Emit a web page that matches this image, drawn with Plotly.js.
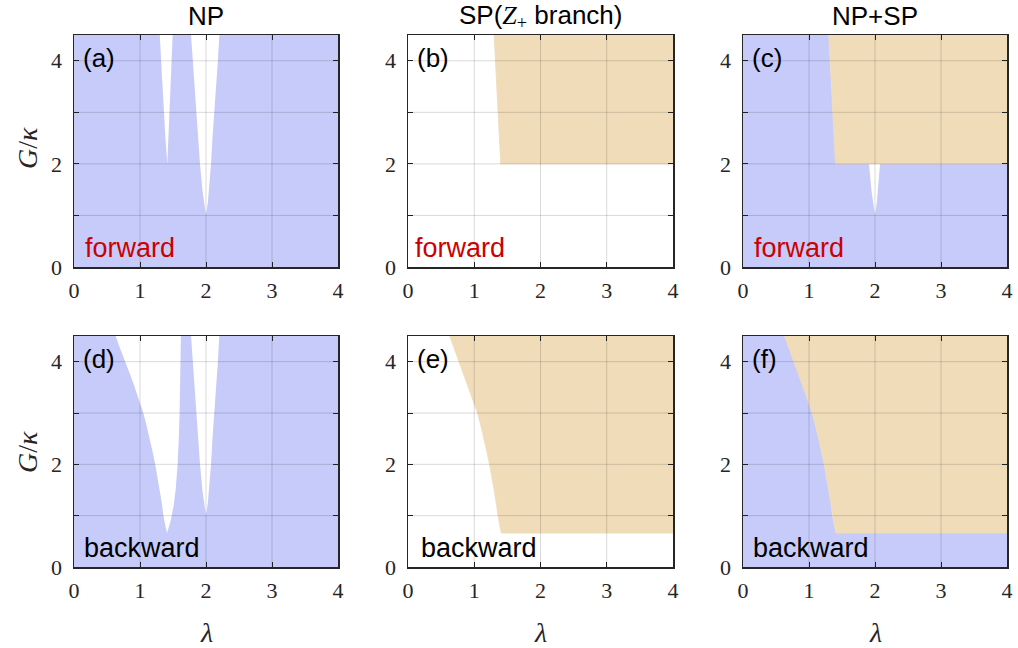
<!DOCTYPE html>
<html>
<head>
<meta charset="utf-8">
<script src="https://cdn.plot.ly/plotly-3.0.1.min.js"></script>
<style>html,body{margin:0;padding:0;background:#fff;}</style>
</head>
<body>
<div id="chart" style="width:1018px;height:648px;"></div>
<script>
// ---------------- data ----------------
const xTickVals = [0, 1, 2, 3, 4];
const xTickText = ['0', '1', '2', '3', '4'];
const yTickVals = [0, 2, 4];
const yTickText = ['0', '2', '4'];
const yMinorTickVals = [1, 3];
const xRange = [0, 4];
const yRange = [0, 4.5];

// NP forward: white wedge near lambda = sqrt(2)
const npW1Y     = [4.5, 4.0, 3.5, 3.0, 2.5, 2.0];
const npW1Left  = [1.30, 1.32, 1.34, 1.36, 1.385, 1.414];
const npW1Right = [1.495, 1.48, 1.468, 1.455, 1.437, 1.414];
// NP (both directions): white wedge near lambda = 2
const npW2Y     = [4.5, 4.0, 3.5, 3.0, 2.5, 2.0, 1.5, 1.25, 1.0];
const npW2Left  = [1.773, 1.80, 1.826, 1.853, 1.88, 1.909, 1.945, 1.97, 2.0];
const npW2Right = [2.202, 2.18, 2.15, 2.12, 2.098, 2.076, 2.05, 2.028, 2.0];
// backward: left boundary curve (shared by NP white region and SP region)
const bwCurveY = [4.5, 4.25, 4.0, 3.75, 3.5, 3.25, 3.0, 2.75, 2.5, 2.25, 2.0, 1.75, 1.5, 1.25, 1.0, 0.8, 0.66];
const bwCurveX = [0.63, 0.70, 0.77, 0.85, 0.92, 0.99, 1.05, 1.10, 1.15, 1.19, 1.23, 1.27, 1.30, 1.33, 1.355, 1.385, 1.41];
// NP backward: right side of the large white region
const npBwRightY = [4.5, 4.0, 3.0, 2.5, 2.0, 1.5, 1.2, 0.9, 0.66];
const npBwRightX = [1.62, 1.615, 1.60, 1.588, 1.57, 1.54, 1.51, 1.465, 1.41];
// SP forward (Z+ branch) boundary
const spFwY = [4.5, 4.0, 3.5, 3.0, 2.5, 2.0];
const spFwX = [1.30, 1.32, 1.34, 1.36, 1.38, 1.40];
const spFwThreshold = 2.0;
const spBwThreshold = 0.66;

const panelLabels = ['(a)', '(b)', '(c)', '(d)', '(e)', '(f)'];
const dirLabels = ['forward', 'forward', 'forward', 'backward', 'backward', 'backward'];
const dirLabelX = [0.13, 0.07, 0.13, 0.12, 0.17, 0.12];
const columnTitles = ['NP', 'SP(<span style="font-family:\'Liberation Serif\';"><i>Z</i><sub>+</sub></span> branch)', 'NP+SP'];

// ---------------- styles ----------------
const BLUE = '#c6cbfa';
const TAN = '#f0dcb9';
const AX = '#262626';
const SANS = 'Liberation Sans, Arial, sans-serif';
const SERIF = 'Liberation Serif, Times New Roman, serif';

const xDom = [[74/1018, 338/1018], [408/1018, 673/1018], [743/1018, 1007/1018]];
const yDomTop = [(648-267)/648, (648-35)/648];
const yDomBot = [(648-567)/648, (648-336)/648];

const rev = a => a.slice().reverse();

// polygons
function npForwardPoly() {
  const x = [0, 4, 4].concat(npW2Right, rev(npW2Left), npW1Right, rev(npW1Left), [0]);
  const y = [0, 0, 4.5].concat(npW2Y, rev(npW2Y), npW1Y, rev(npW1Y), [4.5]);
  return {x, y};
}
function npBackwardPoly() {
  const x = [0, 4, 4].concat(npW2Right, rev(npW2Left), npBwRightX, rev(bwCurveX), [0]);
  const y = [0, 0, 4.5].concat(npW2Y, rev(npW2Y), npBwRightY, rev(bwCurveY), [4.5]);
  return {x, y};
}
function spForwardPoly() {
  return {x: spFwX.concat([4, 4]), y: spFwY.concat([spFwThreshold, 4.5])};
}
function spBackwardPoly() {
  return {x: bwCurveX.concat([4, 4]), y: bwCurveY.concat([spBwThreshold, 4.5])};
}

function fillTrace(poly, color, idx, edge) {
  const s = idx === 1 ? '' : String(idx);
  return {
    type: 'scatter', mode: 'lines', x: poly.x, y: poly.y,
    fill: 'toself', fillcolor: color,
    line: {color: color, width: edge ? 0.8 : 0},
    xaxis: 'x' + s, yaxis: 'y' + s, hoverinfo: 'skip', showlegend: false
  };
}

const traces = [
  fillTrace(npForwardPoly(), BLUE, 1, false),
  fillTrace(spForwardPoly(), TAN, 2, true),
  fillTrace(npForwardPoly(), BLUE, 3, false),
  fillTrace(spForwardPoly(), TAN, 3, true),
  fillTrace(npBackwardPoly(), BLUE, 4, false),
  fillTrace(spBackwardPoly(), TAN, 5, true),
  fillTrace(npBackwardPoly(), BLUE, 6, false),
  fillTrace(spBackwardPoly(), TAN, 6, true)
];

function axisBase(isX) {
  const a = {
    range: isX ? xRange : yRange,
    tickmode: 'array',
    tickvals: isX ? xTickVals : yTickVals,
    ticktext: isX ? xTickText : yTickText,
    ticks: 'inside', ticklen: 5, tickwidth: 1, tickcolor: AX,
    showline: true, linecolor: AX, linewidth: 1.5, mirror: 'ticks',
    showgrid: false, zeroline: false, layer: 'above traces',
    tickfont: {family: SERIF, size: 22, color: AX},
    ticklabelstandoff: isX ? 3 : 6,
    fixedrange: true
  };
  if (!isX) {
    a.minor = {tickmode: 'array', tickvals: yMinorTickVals, ticks: 'inside', ticklen: 5,
               tickwidth: 1, tickcolor: AX, showgrid: false};
  }
  return a;
}

const layout = {
  width: 1018, height: 648,
  margin: {l: 0, r: 0, t: 0, b: 0},
  paper_bgcolor: '#fff', plot_bgcolor: '#fff',
  showlegend: false,
  shapes: [], annotations: []
};

for (let i = 1; i <= 6; i++) {
  const s = i === 1 ? '' : String(i);
  const col = (i - 1) % 3;
  const top = i <= 3;
  const xa = axisBase(true);
  xa.domain = xDom[col];
  xa.anchor = 'y' + s;
  const ya = axisBase(false);
  ya.domain = top ? yDomTop : yDomBot;
  ya.anchor = 'x' + s;
  layout['xaxis' + s] = xa;
  layout['yaxis' + s] = ya;

  // grid lines drawn above the fills (as in the reference)
  [1, 2, 3].forEach(v => layout.shapes.push({
    type: 'line', xref: 'x' + s, yref: 'y' + s, x0: v, x1: v, y0: yRange[0], y1: yRange[1],
    line: {color: 'rgba(0,0,0,0.15)', width: 1}, layer: 'above'
  }));
  [1, 2, 3, 4].forEach(v => layout.shapes.push({
    type: 'line', xref: 'x' + s, yref: 'y' + s, x0: xRange[0], x1: xRange[1], y0: v, y1: v,
    line: {color: 'rgba(0,0,0,0.15)', width: 1}, layer: 'above'
  }));

  layout.annotations.push({
    xref: 'x' + s, yref: 'y' + s, x: 0.1, y: 4.05, xanchor: 'left', yanchor: 'middle',
    text: panelLabels[i - 1], showarrow: false, font: {family: SANS, size: 26, color: '#000'}
  });
  layout.annotations.push({
    xref: 'x' + s, yref: 'y' + s, x: dirLabelX[i - 1], y: 0.37, xanchor: 'left', yanchor: 'middle',
    text: dirLabels[i - 1], showarrow: false,
    font: {family: SANS, size: 27, color: top ? '#cc0000' : '#000'}
  });
}

// column titles
columnTitles.forEach((t, c) => layout.annotations.push({
  xref: 'paper', yref: 'paper', x: (xDom[c][0] + xDom[c][1]) / 2, y: (648 - 16) / 648,
  xanchor: 'center', yanchor: 'middle', text: t, showarrow: false,
  font: {family: SANS, size: 26, color: '#000'}
}));
// y-axis titles
[(648 - 148) / 648, (648 - 452) / 648].forEach(yy => layout.annotations.push({
  xref: 'paper', yref: 'paper', x: 27 / 1018, y: yy, xanchor: 'center', yanchor: 'middle',
  textangle: -90, text: '<i>G</i>/<i>κ</i>', showarrow: false,
  font: {family: SERIF, size: 28, color: AX}
}));
// x-axis titles
xDom.forEach(d => layout.annotations.push({
  xref: 'paper', yref: 'paper', x: (d[0] + d[1]) / 2, y: (648 - 632) / 648,
  xanchor: 'center', yanchor: 'middle', text: '<i>λ</i>', showarrow: false,
  font: {family: SERIF, size: 28, color: AX}
}));

Plotly.newPlot('chart', traces, layout, {staticPlot: true, displayModeBar: false});
</script>
</body>
</html>
